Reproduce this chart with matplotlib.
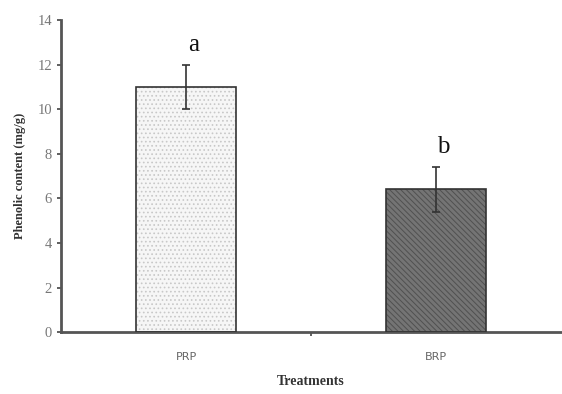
import numpy as np
import matplotlib
matplotlib.use("Agg")
import matplotlib.pyplot as plt

treatments = ["PRP", "BRP"]
phenolic = [11.0, 6.4]
errors = [1.0, 1.0]
letters = ["a", "b"]

fig = plt.figure(figsize=(5.62, 3.94), dpi=100)
ax = fig.add_axes([0.1085, 0.157, 0.89, 0.792])

x = np.arange(len(treatments)) + 0.5
faces = ["#f6f6f6", "#747474"]
hatches = ["....", "\\\\\\\\\\\\"]
hatch_cols = ["#c8c8c8", "#505050"]
plt.rcParams["hatch.linewidth"] = 0.7

for xi, v, fc, h, hc in zip(x, phenolic, faces, hatches, hatch_cols):
    ax.bar(xi, v, width=0.4, color=fc, edgecolor=hc, hatch=h, linewidth=0, zorder=2)
    ax.bar(xi, v, width=0.4, color="none", edgecolor="#333333", linewidth=1.2, zorder=3)

ax.errorbar(x, phenolic, yerr=errors, fmt="none", ecolor="#333333",
            elinewidth=1.2, capsize=3, capthick=1.2, zorder=4)

for xi, v, e, t in zip(x, phenolic, errors, letters):
    ax.text(xi + 0.03, v + e + 0.4, t, ha="center", va="bottom",
            fontsize=18, family="Liberation Serif", color="#111111")

ax.set_xlim(0, 2)
ax.set_ylim(0, 14)
ax.set_yticks(range(0, 15, 2))
ax.set_xticks(x)
ax.set_xticklabels(treatments, fontsize=8, color="#666666", family="DejaVu Sans")
ax.set_xticks([1.0], minor=True)
ax.tick_params(axis="x", which="major", length=0, pad=14)
ax.tick_params(axis="x", which="minor", length=3, width=1.2, color="#444444")
ax.tick_params(axis="y", length=3, width=1.2, color="#444444", labelcolor="#777777",
               labelsize=10.5)
for lab in ax.get_yticklabels():
    lab.set_family("Liberation Serif")

for s in ["top", "right"]:
    ax.spines[s].set_visible(False)
for s in ["left", "bottom"]:
    ax.spines[s].set_color("#555555")
    ax.spines[s].set_linewidth(2)

ax.set_ylabel("Phenolic content (mg/g)", fontsize=9, fontweight="bold",
              family="Liberation Serif", color="#333333", labelpad=8)
ax.set_xlabel("Treatments", fontsize=10, fontweight="bold",
              family="Liberation Serif", color="#333333", labelpad=10)

fig.savefig("out.png", dpi=100)
